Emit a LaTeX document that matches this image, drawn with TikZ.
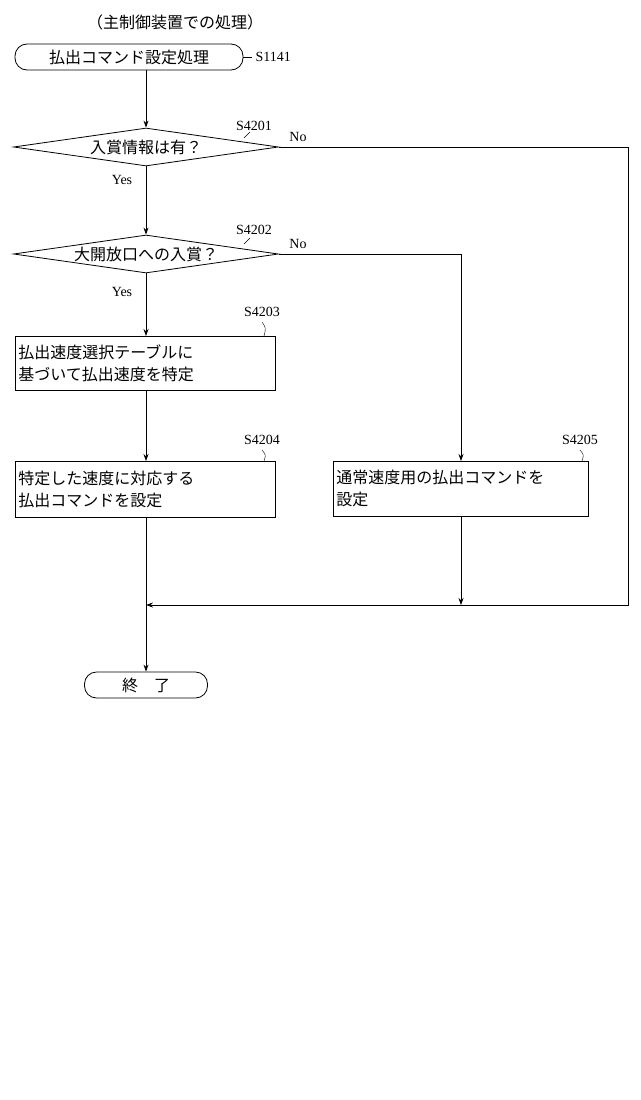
\documentclass[tikz,border=0pt]{standalone}
\usepackage{fontspec}
\setmainfont{Liberation Serif}
\newfontfamily\jp{Noto Sans CJK JP}
\usetikzlibrary{shapes.geometric,arrows.meta}
\tikzset{
  box/.style={draw,thick,align=left,anchor=north west,inner sep=3pt,font=\jp\fontsize{16}{22}\selectfont},
  term/.style={draw,thick,rounded corners=12pt,minimum height=26pt,font=\jp\fontsize{16}{18}\selectfont},
  dec/.style={draw,thick,diamond,aspect=7,inner sep=0pt,minimum width=265pt,minimum height=38pt,font=\jp\fontsize{16}{18}\selectfont},
  lab/.style={font=\fontsize{14}{16}\selectfont},
  flow/.style={thick,-{Stealth[length=7pt,width=5pt]}}
}
\begin{document}
\begin{tikzpicture}[x=1pt,y=1pt]
\useasboundingbox (0,0) rectangle (640,-1100);
\fill[white] (0,0) rectangle (640,-1100);
\node[font=\jp\fontsize{16}{18}\selectfont] (title) at (175,-22) {（主制御装置での処理）};
\node[term,minimum width=228pt] (start) at (129,-57) {払出コマンド設定処理};
\node[lab,anchor=west] (s1141) at (252,-57) {S1141};
\draw (start.east) -- (s1141.west);
\node[dec] (d1) at (146,-147) {入賞情報は有？};
\node[lab] at (254,-126) {S4201};
\draw (244,-138) -- (250,-132);
\node[lab] at (298,-137) {No};
\node[lab] at (122,-180) {Yes};
\node[dec] (d2) at (146,-254) {大開放口への入賞？};
\node[lab] at (254,-230) {S4202};
\draw (244,-244) -- (250,-238);
\node[lab] at (298,-244) {No};
\node[lab] at (122,-292) {Yes};
\node[box,text width=254pt,minimum height=54pt] (b3) at (15,-336) {払出速度選択テーブルに\\基づいて払出速度を特定};
\node[lab] at (262,-312) {S4203};
\draw (262,-322) .. controls (266,-328) .. (264,-336);
\node[box,text width=254pt,minimum height=56pt] (b4) at (15,-461) {特定した速度に対応する\\払出コマンドを設定};
\node[lab] at (262,-440) {S4204};
\draw (262,-450) .. controls (266,-455) .. (264,-461);
\node[box,text width=249pt,minimum height=55pt] (b5) at (333,-461) {通常速度用の払出コマンドを\\設定};
\node[lab] at (580,-440) {S4205};
\draw (580,-450) .. controls (584,-455) .. (582,-461);
\node[term,minimum width=123pt] (end) at (146,-685) {終　了};
\coordinate (m) at (146,-605);
\draw[flow] (m |- start.south) -- (d1.north);
\draw[flow] (d1.south) -- (d2.north);
\draw[flow] (d2.south) -- (m |- b3.north);
\draw[flow] (m |- b3.south) -- (m |- b4.north);
\draw[flow] (m |- b4.south) -- (end.north);
\draw[flow] (d2.east) -| (461,-461);
\draw[flow] (461,-516) -- (461,-605);
\draw[flow] (d1.east) -- (628,-147) -- (628,-605) -- (m);
\end{tikzpicture}
\end{document}
